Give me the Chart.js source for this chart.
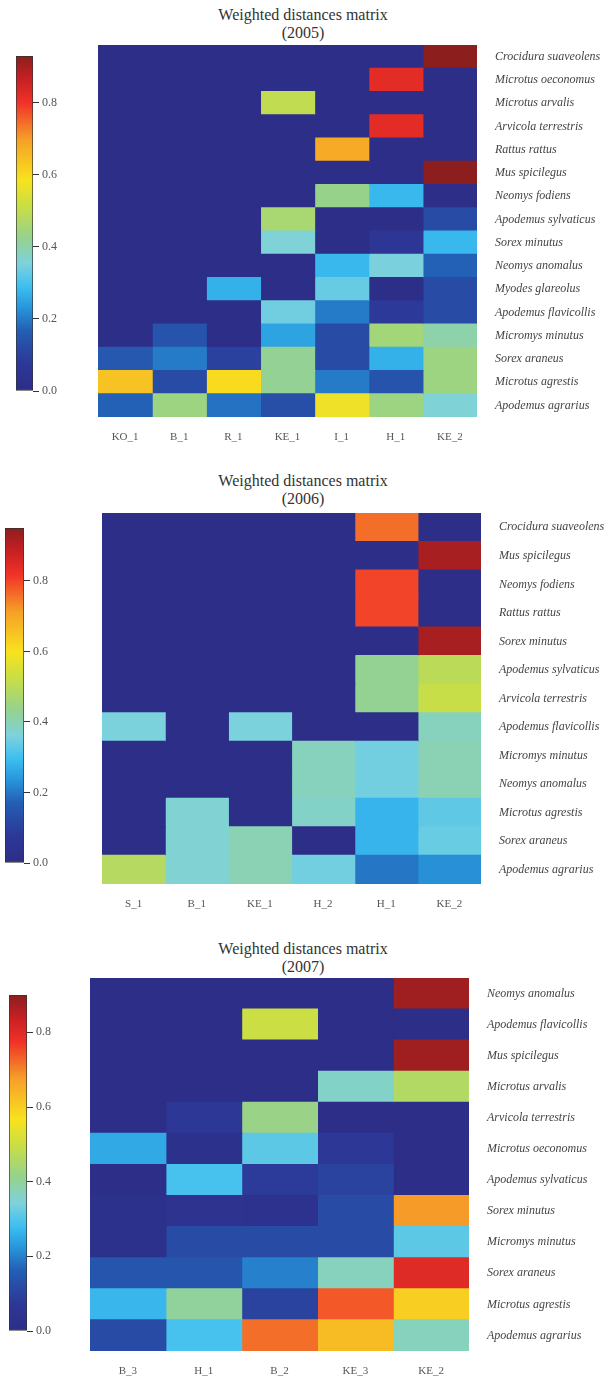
<!DOCTYPE html>
<html>
<head>
<meta charset="utf-8">
<script src="https://cdn.jsdelivr.net/npm/chart.js@4/dist/chart.umd.min.js"></script>
<style>
  body { margin: 0; background: #fff; }
  #page { position: relative; width: 610px; height: 1376px; overflow: hidden; }
  canvas { position: absolute; }
  .ttl { position: absolute; left: 0; width: 606px; text-align: center; font-family: "Liberation Serif", serif; font-size: 16px; color: #333; line-height: 18px; }
</style>
</head>
<body>
<div id="page">
  <div class="ttl" style="top:6px">Weighted distances matrix<br>(2005)</div>
  <canvas id="hm1"></canvas><canvas id="cb1"></canvas>
  <div class="ttl" style="top:472px">Weighted distances matrix<br>(2006)</div>
  <canvas id="hm2"></canvas><canvas id="cb2"></canvas>
  <div class="ttl" style="top:940px">Weighted distances matrix<br>(2007)</div>
  <canvas id="hm3"></canvas><canvas id="cb3"></canvas>
</div>
<script>
// ---- 2005 ----
const cols2005 = ["KO_1", "B_1", "R_1", "KE_1", "I_1", "H_1", "KE_2"];
const rows2005 = ["Crocidura suaveolens", "Microtus oeconomus", "Microtus arvalis", "Arvicola terrestris",
  "Rattus rattus", "Mus spicilegus", "Neomys fodiens", "Apodemus sylvaticus", "Sorex minutus",
  "Neomys anomalus", "Myodes glareolus", "Apodemus flavicollis", "Micromys minutus", "Sorex araneus",
  "Microtus agrestis", "Apodemus agrarius"];
const vals2005 = [
  [0, 0, 0, 0, 0, 0, 0.93],
  [0, 0, 0, 0, 0, 0.82, 0],
  [0, 0, 0, 0.5, 0, 0, 0],
  [0, 0, 0, 0, 0, 0.82, 0],
  [0, 0, 0, 0, 0.68, 0, 0],
  [0, 0, 0, 0, 0, 0, 0.93],
  [0, 0, 0, 0, 0.43, 0.28, 0],
  [0, 0, 0, 0.46, 0, 0, 0.12],
  [0, 0, 0, 0.36, 0, 0.07, 0.28],
  [0, 0, 0, 0, 0.28, 0.35, 0.17],
  [0, 0, 0.27, 0, 0.33, 0, 0.12],
  [0, 0, 0, 0.34, 0.2, 0.08, 0.12],
  [0, 0.14, 0, 0.25, 0.12, 0.45, 0.4],
  [0.15, 0.2, 0.1, 0.42, 0.12, 0.27, 0.44],
  [0.64, 0.12, 0.6, 0.42, 0.2, 0.14, 0.44],
  [0.17, 0.44, 0.19, 0.13, 0.57, 0.44, 0.36]
];
const max2005 = 0.93;

// ---- 2006 ----
const cols2006 = ["S_1", "B_1", "KE_1", "H_2", "H_1", "KE_2"];
const rows2006 = ["Crocidura suaveolens", "Mus spicilegus", "Neomys fodiens", "Rattus rattus",
  "Sorex minutus", "Apodemus sylvaticus", "Arvicola terrestris", "Apodemus flavicollis",
  "Micromys minutus", "Neomys anomalus", "Microtus agrestis", "Sorex araneus", "Apodemus agrarius"];
const vals2006 = [
  [0, 0, 0, 0, 0.76, 0],
  [0, 0, 0, 0, 0, 0.92],
  [0, 0, 0, 0, 0.8, 0],
  [0, 0, 0, 0, 0.8, 0],
  [0, 0, 0, 0, 0, 0.92],
  [0, 0, 0, 0, 0.43, 0.5],
  [0, 0, 0, 0, 0.43, 0.52],
  [0.36, 0, 0.36, 0, 0, 0.39],
  [0, 0, 0, 0.39, 0.35, 0.4],
  [0, 0, 0, 0.39, 0.35, 0.4],
  [0, 0.37, 0, 0.38, 0.28, 0.33],
  [0, 0.37, 0.4, 0, 0.28, 0.34],
  [0.49, 0.37, 0.4, 0.35, 0.2, 0.23]
];
const max2006 = 0.95;

// ---- 2007 ----
const cols2007 = ["B_3", "H_1", "B_2", "KE_3", "KE_2"];
const rows2007 = ["Neomys anomalus", "Apodemus flavicollis", "Mus spicilegus", "Microtus arvalis",
  "Arvicola terrestris", "Microtus oeconomus", "Apodemus sylvaticus", "Sorex minutus",
  "Micromys minutus", "Sorex araneus", "Microtus agrestis", "Apodemus agrarius"];
const vals2007 = [
  [0, 0, 0, 0, 0.88],
  [0, 0, 0.5, 0, 0],
  [0, 0, 0, 0, 0.88],
  [0, 0, 0, 0.36, 0.46],
  [0, 0.07, 0.42, 0, 0],
  [0.25, 0.02, 0.31, 0.07, 0],
  [0, 0.29, 0.08, 0.1, 0],
  [0.02, 0.04, 0.03, 0.12, 0.68],
  [0.02, 0.12, 0.12, 0.12, 0.31],
  [0.14, 0.14, 0.2, 0.37, 0.8],
  [0.27, 0.4, 0.1, 0.74, 0.6],
  [0.12, 0.29, 0.72, 0.63, 0.37]
];
const max2007 = 0.9;

const cbTicks = [0, 0.2, 0.4, 0.6, 0.8];

// jet-like colormap as printed in the figure
const stops = [
  [0.00, [44, 46, 135]], [0.08, [45, 55, 150]], [0.18, [35, 95, 180]], [0.25, [40, 150, 220]],
  [0.31, [60, 190, 240]], [0.38, [125, 210, 220]], [0.46, [150, 210, 140]], [0.55, [200, 222, 70]],
  [0.63, [248, 226, 30]], [0.75, [246, 160, 40]], [0.86, [240, 50, 40]], [0.93, [200, 32, 35]],
  [1.00, [140, 30, 30]]
];
function cmap(t) {
  t = Math.max(0, Math.min(1, t));
  for (let i = 1; i < stops.length; i++) {
    if (t <= stops[i][0]) {
      const [t0, c0] = stops[i - 1], [t1, c1] = stops[i];
      const f = (t - t0) / (t1 - t0);
      const c = c0.map((v, k) => Math.round(v + (c1[k] - v) * f));
      return `rgb(${c[0]},${c[1]},${c[2]})`;
    }
  }
  return "rgb(140,30,30)";
}

const serif = "'Liberation Serif', 'DejaVu Serif', serif";
const TOP = 24; // room above the plot so chart area lands on box.top

function heatmap(id, rows, cols, vals, vmax, box) {
  const cv = document.getElementById(id);
  const labW = 610 - box.right;
  cv.width = 610 - box.left;
  cv.height = box.bottom - box.top + 30 + TOP;
  cv.style.left = box.left + "px";
  cv.style.top = (box.top - TOP) + "px";
  new Chart(cv, {
    type: "bar",
    data: {
      labels: rows,
      datasets: cols.map((c, j) => ({
        label: c,
        data: rows.map(() => [j, j + 1]),
        backgroundColor: vals.map(r => cmap(r[j] / vmax)),
        borderWidth: 0,
        inflateAmount: 0.6,
        grouped: false,
        barPercentage: 1,
        categoryPercentage: 1,
      })),
    },
    options: {
      indexAxis: "y",
      responsive: false,
      animation: false,
      layout: { padding: { top: TOP, left: 0, right: 0, bottom: 0 } },
      plugins: { legend: { display: false }, tooltip: { enabled: false } },
      scales: {
        x: {
          type: "linear",
          min: 0,
          max: cols.length,
          grid: { display: false },
          border: { display: false },
          afterBuildTicks: (axis) => { axis.ticks = cols.map((c, i) => ({ value: i + 0.5 })); },
          afterFit: (axis) => { axis.height = 30; },
          ticks: {
            autoSkip: false,
            maxRotation: 0,
            padding: 6,
            color: "#555",
            font: { family: serif, size: 11 },
            callback: (v) => cols[Math.floor(v)],
          },
        },
        y: {
          type: "category",
          position: "right",
          grid: { display: false },
          border: { display: false },
          afterFit: (axis) => { axis.width = labW; },
          ticks: {
            autoSkip: false,
            padding: 10,
            color: "#444",
            font: { family: serif, size: 12, style: "italic" },
          },
        },
      },
    },
  });
}

function colorbar(id, vmax, box) {
  const cv = document.getElementById(id);
  const pad = 14;
  cv.width = box.right - box.left + 45;
  cv.height = box.bottom - box.top + pad * 2;
  cv.style.left = box.left + "px";
  cv.style.top = (box.top - pad) + "px";
  new Chart(cv, {
    type: "bar",
    data: {
      labels: [""],
      datasets: [{
        data: [[0, vmax]],
        backgroundColor: (ctx) => {
          const area = ctx.chart.chartArea;
          if (!area) return "#2c2e87";
          const g = ctx.chart.ctx.createLinearGradient(0, area.bottom, 0, area.top);
          stops.forEach(([t, c]) => g.addColorStop(t, `rgb(${c[0]},${c[1]},${c[2]})`));
          return g;
        },
        borderColor: "#333",
        borderWidth: 1,
        borderSkipped: false,
        barPercentage: 1,
        categoryPercentage: 1,
      }],
    },
    options: {
      responsive: false,
      animation: false,
      layout: { padding: { top: pad, bottom: pad, left: 0, right: 0 } },
      plugins: { legend: { display: false }, tooltip: { enabled: false } },
      scales: {
        x: { display: false },
        y: {
          position: "right",
          min: 0,
          max: vmax,
          afterBuildTicks: (axis) => { axis.ticks = cbTicks.map(v => ({ value: v })); },
          afterFit: (axis) => { axis.width = 45; },
          grid: { drawOnChartArea: false, drawTicks: true, tickLength: 6, color: "#333" },
          border: { display: false },
          ticks: {
            padding: 3,
            color: "#555",
            font: { family: serif, size: 12 },
            callback: (v) => v.toFixed(1),
          },
        },
      },
    },
  });
}

heatmap("hm1", rows2005, cols2005, vals2005, max2005, { left: 98, right: 477, top: 45, bottom: 417 });
colorbar("cb1", max2005, { left: 16, right: 33, top: 56, bottom: 391 });
heatmap("hm2", rows2006, cols2006, vals2006, max2006, { left: 102, right: 481, top: 513, bottom: 884 });
colorbar("cb2", max2006, { left: 5, right: 24, top: 528, bottom: 863 });
heatmap("hm3", rows2007, cols2007, vals2007, max2007, { left: 90, right: 469, top: 978, bottom: 1351 });
colorbar("cb3", max2007, { left: 9, right: 27, top: 995, bottom: 1331 });
</script>
</body>
</html>
